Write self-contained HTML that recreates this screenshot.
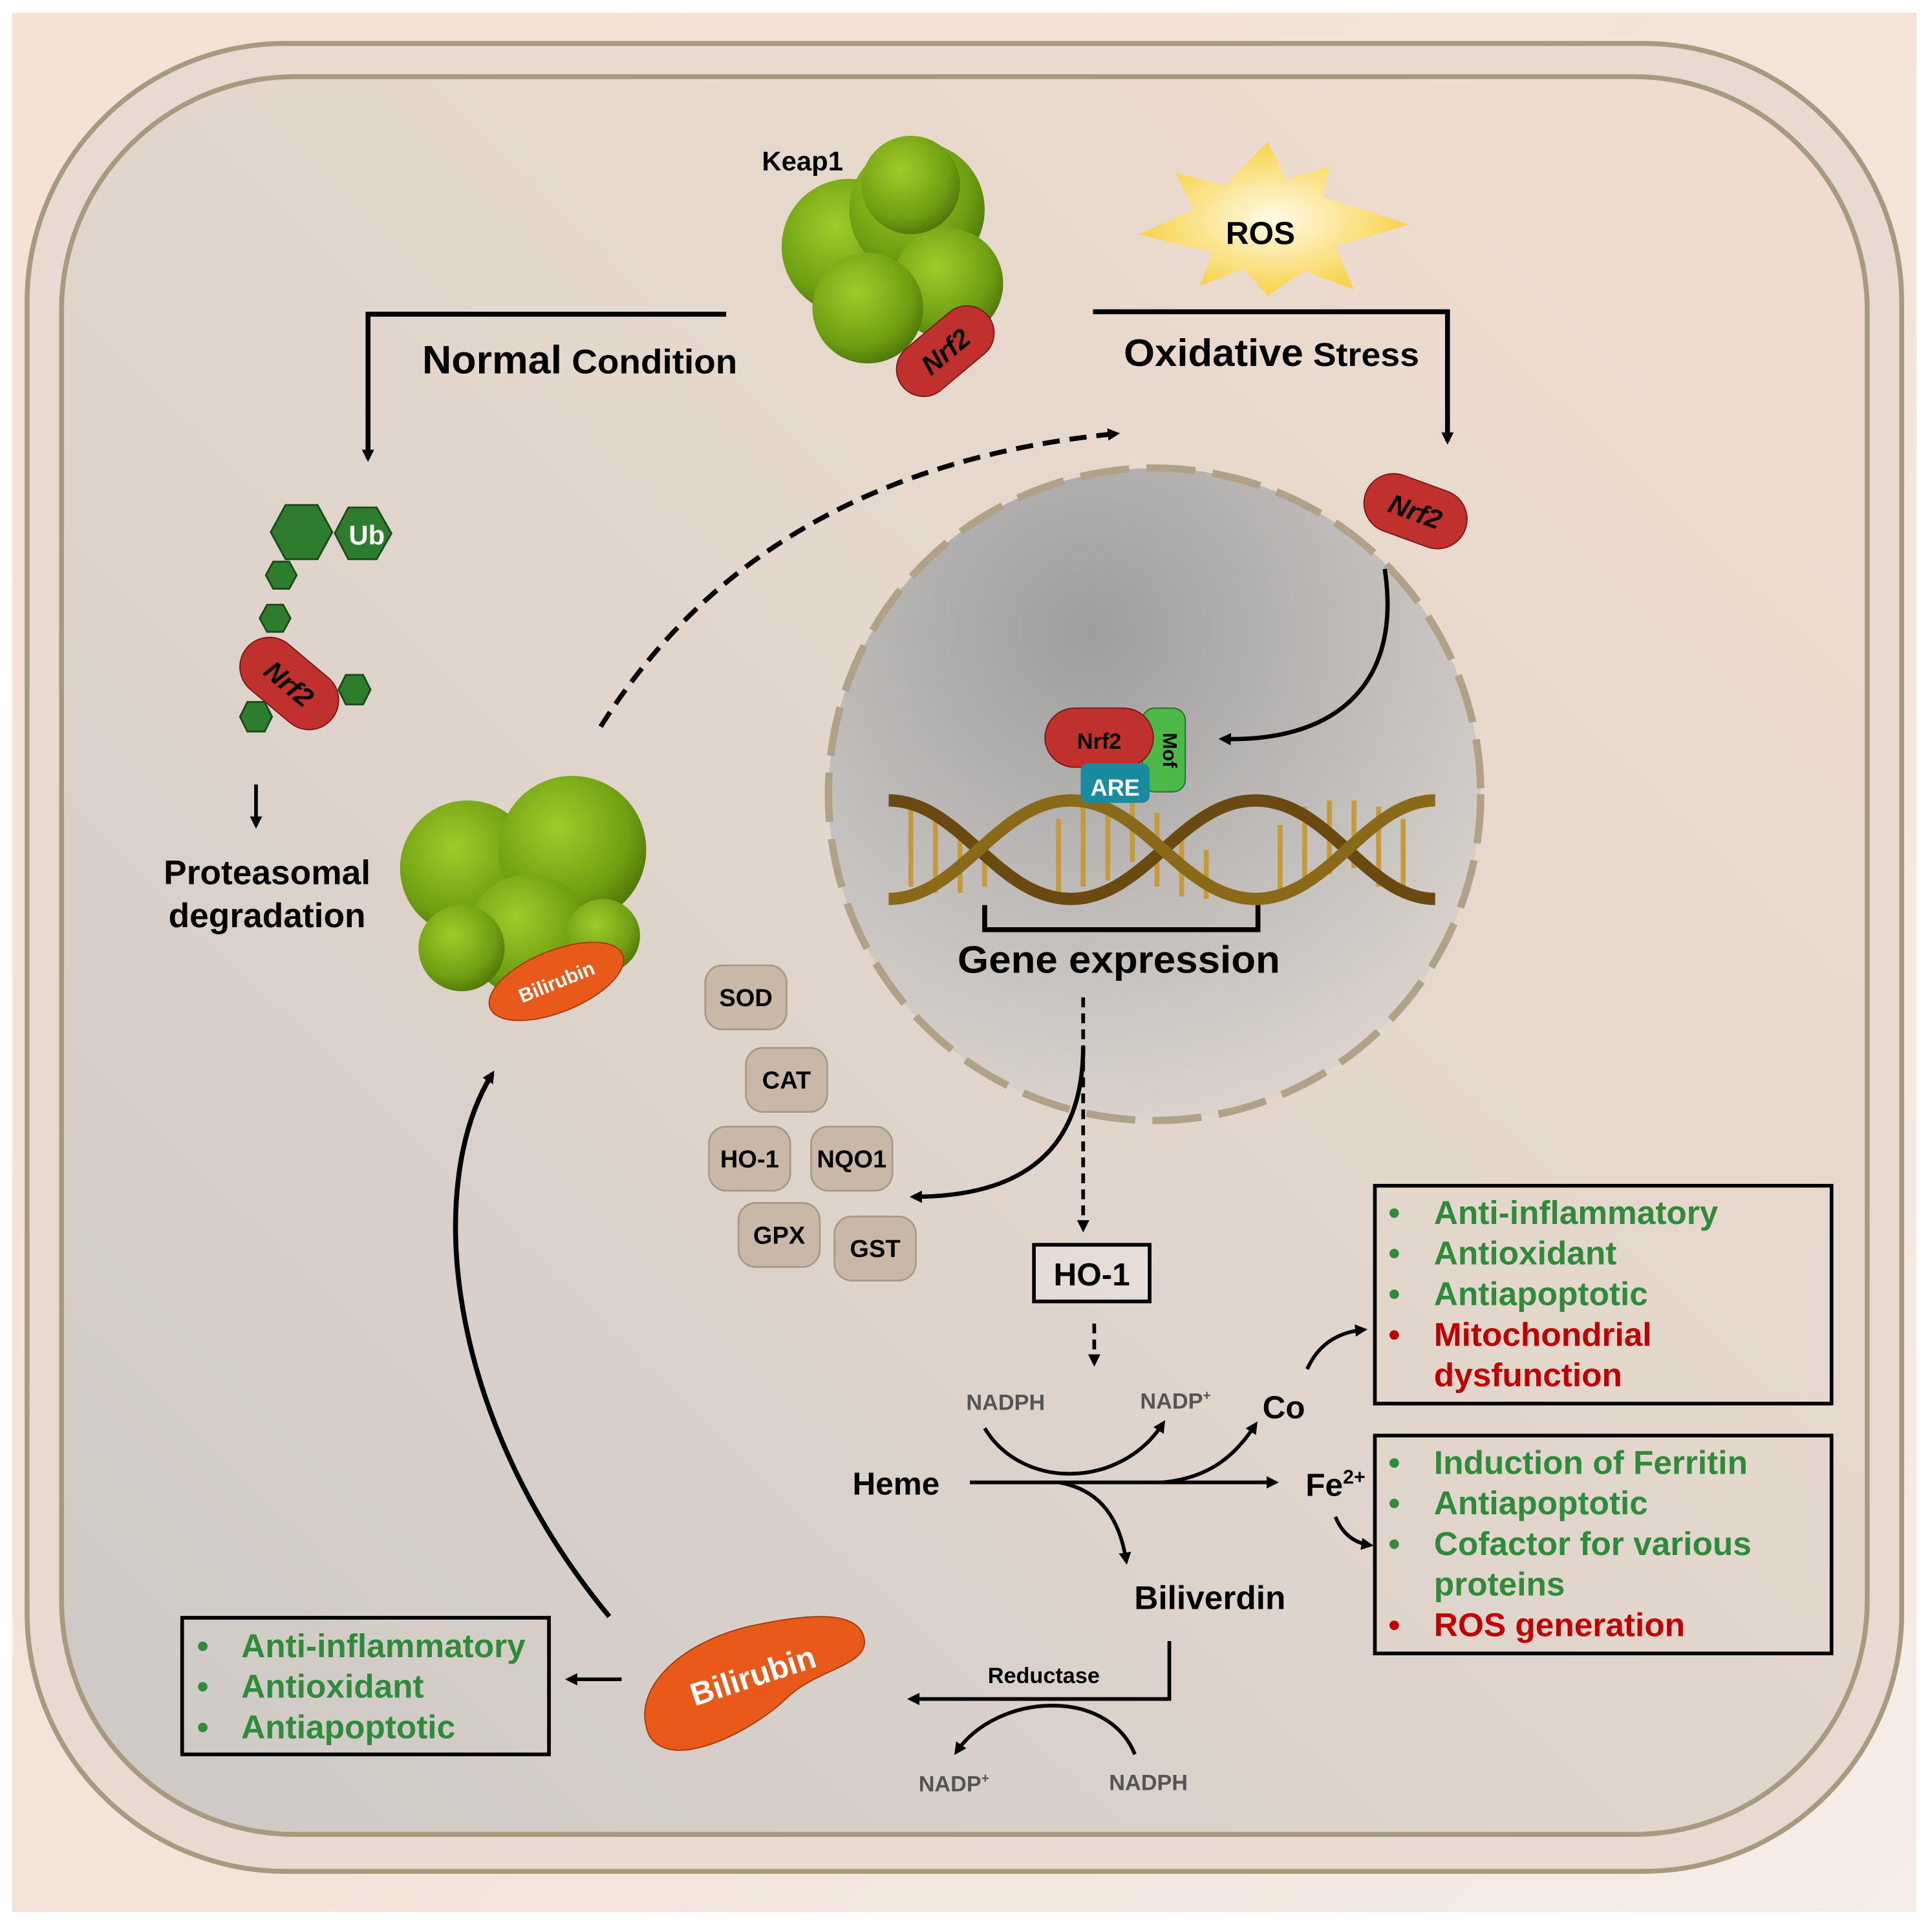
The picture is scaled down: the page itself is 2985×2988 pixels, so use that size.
<!DOCTYPE html>
<html><head><meta charset="utf-8"><style>
html,body{margin:0;padding:0;background:#fff}
svg{display:block}
text{font-family:"Liberation Sans",Arial,sans-serif;font-weight:bold}
</style></head><body>
<svg width="2985" height="2988" viewBox="0 0 1568 1569" xmlns="http://www.w3.org/2000/svg">
<defs>
<linearGradient id="bg" x1="0" y1="0" x2="1" y2="1">
<stop offset="0" stop-color="#f6e2d4"/><stop offset="0.5" stop-color="#f3e3d8"/><stop offset="1" stop-color="#f5ede8"/></linearGradient>
<linearGradient id="cell" x1="1" y1="0" x2="0" y2="1">
<stop offset="0" stop-color="#f1ddce"/><stop offset="0.5" stop-color="#e2d6cc"/><stop offset="1" stop-color="#cdc9c6"/></linearGradient>
<radialGradient id="nuc" cx="0.4" cy="0.25" r="0.85">
<stop offset="0" stop-color="#9e9e9e"/><stop offset="0.6" stop-color="#c6c2bf"/><stop offset="1" stop-color="#e2d9d2"/></radialGradient>
<radialGradient id="grn" cx="0.4" cy="0.35" r="0.7">
<stop offset="0" stop-color="#9fcc2a"/><stop offset="0.7" stop-color="#6e9e12"/><stop offset="1" stop-color="#4d7208"/></radialGradient>
<radialGradient id="ros" cx="0.5" cy="0.5" r="0.5">
<stop offset="0" stop-color="#fffbe8"/><stop offset="1" stop-color="#f8d24a"/></radialGradient>
<marker id="ar" markerWidth="10" markerHeight="10" refX="7" refY="5" orient="auto" markerUnits="userSpaceOnUse">
<path d="M0,0 L10,5 L0,10 Z" fill="#000"/></marker>
</defs>
<rect width="1568" height="1569" fill="#fff"/>
<rect x="10" y="10" width="1547" height="1543" fill="url(#bg)"/>
<rect x="22" y="35" width="1523" height="1485" rx="210" fill="#e8dad0" stroke="#a89a80" stroke-width="4"/>
<rect x="50" y="62" width="1467" height="1428" rx="190" fill="url(#cell)" stroke="#a89a80" stroke-width="4"/>
<circle cx="938" cy="645" r="265" fill="url(#nuc)" stroke="#b0a288" stroke-width="6" stroke-dasharray="40,14"/>

<g fill="url(#grn)">
<circle cx="690" cy="200" r="55"/><circle cx="745" cy="170" r="55"/><circle cx="770" cy="230" r="45"/><circle cx="705" cy="250" r="45"/><circle cx="740" cy="150" r="40"/>
</g>
<g transform="translate(768,285) rotate(-40)"><rect x="-45" y="-22" width="90" height="44" rx="22" fill="#c0302c" stroke="#7a1a18"/><text x="0" y="8" font-size="22" text-anchor="middle" font-style="italic">Nrf2</text></g>
<text x="652" y="138" font-size="22" text-anchor="middle">Keap1</text>

<polygon points="1030,115 1045,145 1080,135 1075,160 1145,182 1085,200 1100,235 1060,220 1030,240 1010,218 975,232 985,205 925,190 970,170 955,140 995,150" fill="url(#ros)"/>
<text x="1024" y="198" font-size="26" text-anchor="middle">ROS</text>

<path d="M590,255 H299 V372" fill="none" stroke="#000" stroke-width="4" marker-end="url(#ar)"/>
<path d="M888,253 H1176 V358" fill="none" stroke="#000" stroke-width="4" marker-end="url(#ar)"/>
<text x="343" y="303" font-size="32" textLength="256" lengthAdjust="spacingAndGlyphs"><tspan>Normal</tspan><tspan font-size="28"> Condition</tspan></text>
<text x="913" y="297" font-size="31" textLength="240" lengthAdjust="spacingAndGlyphs"><tspan>Oxidative</tspan><tspan font-size="27"> Stress</tspan></text>

<g fill="#2e7d2e" stroke="#1a4a1a" stroke-width="1.5">
<polygon points="220,432 232,410 258,410 270,432 258,454 232,454"/>
<polygon points="272,433 283,412 306,412 318,433 306,454 283,454"/>
<polygon points="216,467 222,456 235,456 241,467 235,478 222,478"/>
<polygon points="211,502 217,491 230,491 236,502 230,513 217,513"/>
<polygon points="275,560 281,548 295,548 301,560 295,572 281,572"/>
<polygon points="195,582 201,570 215,570 221,582 215,594 201,594"/>
</g>
<text x="298" y="442" font-size="22" fill="#fff" text-anchor="middle">Ub</text>
<g transform="translate(235,555) rotate(40)"><rect x="-45" y="-24" width="90" height="48" rx="24" fill="#c0302c" stroke="#7a1a18"/><text x="0" y="8" font-size="22" text-anchor="middle" font-style="italic">Nrf2</text></g>
<path d="M208,637 V670" stroke="#000" stroke-width="3" marker-end="url(#ar)"/>
<text x="217" y="718" font-size="28" text-anchor="middle">Proteasomal</text>
<text x="217" y="753" font-size="28" text-anchor="middle">degradation</text>

<g fill="url(#grn)">
<circle cx="380" cy="705" r="55"/><circle cx="465" cy="690" r="60"/><circle cx="430" cy="760" r="50"/><circle cx="375" cy="770" r="35"/><circle cx="490" cy="760" r="30"/>
</g>
<g transform="translate(452,797) rotate(-22)"><ellipse rx="58" ry="25" fill="#e85a1a" stroke="#a83a0a"/><text x="0" y="6" font-size="16" fill="#fff" text-anchor="middle">Bilirubin</text></g>

<path d="M488,590 Q620,380 907,352" fill="none" stroke="#000" stroke-width="4" stroke-dasharray="14,8" marker-end="url(#ar)"/>

<g transform="translate(1150,415) rotate(20)"><rect x="-43" y="-24" width="86" height="48" rx="24" fill="#c0302c" stroke="#7a1a18"/><text x="0" y="8" font-size="22" text-anchor="middle" font-style="italic">Nrf2</text></g>
<path d="M1125,462 C1140,560 1080,603 993,600" fill="none" stroke="#000" stroke-width="3.5" marker-end="url(#ar)"/>

<g fill="none">
<g stroke="#c49a3a" stroke-width="4">
<path d="M740,655 V720 M760,665 V725 M780,680 V725 M800,700 V720 M860,665 V725 M880,655 V720 M900,650 V715 M920,650 V700 M940,660 V720 M960,675 V728 M980,690 V730 M1040,670 V725 M1060,655 V720 M1080,650 V710 M1100,650 V705 M1120,655 V720 M1140,665 V728"/>
</g>
<path d="M722,650 C780,650 810,730 870,730 C930,730 960,650 1020,650 C1080,650 1110,730 1166,730" stroke="#6a4a10" stroke-width="10"/>
<path d="M722,730 C780,730 810,650 870,650 C930,650 960,730 1020,730 C1080,730 1110,650 1166,650" stroke="#8a6a18" stroke-width="10"/>
</g>
<rect x="928" y="575" width="35" height="68" rx="10" fill="#4cb848" stroke="#2a6a2a"/>
<text x="945" y="595" font-size="16" transform="rotate(90 945 595)">Mof</text>
<rect x="849" y="575" width="88" height="48" rx="24" fill="#c0302c" stroke="#7a1a18"/>
<text x="893" y="608" font-size="18" text-anchor="middle">Nrf2</text>
<rect x="878" y="620" width="56" height="32" rx="6" fill="#1a8aa0"/>
<text x="906" y="646" font-size="19" fill="#fff" text-anchor="middle">ARE</text>
<path d="M800,735 V755 H1022 V735" fill="none" stroke="#000" stroke-width="4"/>
<text x="909" y="790" font-size="31" text-anchor="middle" textLength="262" lengthAdjust="spacingAndGlyphs">Gene expression</text>

<g fill="#c9b8a7" stroke="#a89a88" stroke-width="1.5">
<rect x="573" y="784" width="66" height="52" rx="14"/>
<rect x="606" y="851" width="66" height="52" rx="14"/>
<rect x="576" y="915" width="66" height="52" rx="14"/>
<rect x="659" y="915" width="66" height="52" rx="14"/>
<rect x="600" y="977" width="66" height="52" rx="14"/>
<rect x="678" y="988" width="66" height="52" rx="14"/>
</g>
<g font-size="20" text-anchor="middle">
<text x="606" y="817">SOD</text><text x="639" y="884">CAT</text><text x="609" y="948">HO-1</text><text x="692" y="948">NQO1</text><text x="633" y="1010">GPX</text><text x="711" y="1021">GST</text>
</g>

<path d="M880,850 C880,935 830,972 742,972" fill="none" stroke="#000" stroke-width="3.5" marker-end="url(#ar)"/>
<path d="M880,810 V998" fill="none" stroke="#000" stroke-width="3" stroke-dasharray="8,5" marker-end="url(#ar)"/>
<rect x="840" y="1011" width="94" height="46" fill="#fff" fill-opacity="0.2" stroke="#000" stroke-width="3"/>
<text x="887" y="1044" font-size="26" text-anchor="middle">HO-1</text>
<path d="M889,1075 V1107" fill="none" stroke="#000" stroke-width="3" stroke-dasharray="8,5" marker-end="url(#ar)"/>

<text x="817" y="1145" font-size="18" fill="#555" text-anchor="middle" font-weight="normal">NADPH</text>
<text x="955" y="1144" font-size="18" fill="#555" text-anchor="middle" font-weight="normal">NADP<tspan font-size="11" dy="-7">+</tspan></text>
<text x="728" y="1214" font-size="26" text-anchor="middle">Heme</text>
<path d="M788,1204 H1036" stroke="#000" stroke-width="3" marker-end="url(#ar)"/>
<path d="M800,1160 C830,1210 910,1210 945,1156" fill="none" stroke="#000" stroke-width="3" marker-end="url(#ar)"/>
<path d="M945,1204 C985,1200 1005,1180 1020,1157" fill="none" stroke="#000" stroke-width="3" marker-end="url(#ar)"/>
<path d="M860,1204 C895,1210 910,1235 915,1268" fill="none" stroke="#000" stroke-width="3" marker-end="url(#ar)"/>
<text x="1043" y="1152" font-size="26" text-anchor="middle">Co</text>
<text x="1085" y="1215" font-size="26" text-anchor="middle">Fe<tspan font-size="16" dy="-10">2+</tspan></text>
<text x="983" y="1307" font-size="27" text-anchor="middle">Biliverdin</text>
<path d="M1062,1112 Q1075,1083 1108,1080" fill="none" stroke="#000" stroke-width="3" marker-end="url(#ar)"/>
<path d="M1085,1232 Q1093,1252 1113,1255" fill="none" stroke="#000" stroke-width="3" marker-end="url(#ar)"/>

<rect x="1117" y="963" width="371" height="177" fill="none" stroke="#000" stroke-width="3"/>
<g font-size="27" fill="#2e8b3a">
<text x="1128" y="994">•</text><text x="1165" y="994">Anti-inflammatory</text>
<text x="1128" y="1027">•</text><text x="1165" y="1027">Antioxidant</text>
<text x="1128" y="1060">•</text><text x="1165" y="1060">Antiapoptotic</text>
</g>
<g font-size="27" fill="#c00000">
<text x="1128" y="1093">•</text><text x="1165" y="1093">Mitochondrial</text><text x="1165" y="1126">dysfunction</text>
</g>
<rect x="1117" y="1166" width="371" height="177" fill="none" stroke="#000" stroke-width="3"/>
<g font-size="27" fill="#2e8b3a">
<text x="1128" y="1197">•</text><text x="1165" y="1197">Induction of Ferritin</text>
<text x="1128" y="1230">•</text><text x="1165" y="1230">Antiapoptotic</text>
<text x="1128" y="1263">•</text><text x="1165" y="1263">Cofactor for various</text><text x="1165" y="1296">proteins</text>
</g>
<g font-size="27" fill="#c00000"><text x="1128" y="1329">•</text><text x="1165" y="1329">ROS generation</text></g>
<rect x="148" y="1314" width="298" height="111" fill="none" stroke="#000" stroke-width="3"/>
<g font-size="27" fill="#2e8b3a">
<text x="160" y="1346">•</text><text x="196" y="1346">Anti-inflammatory</text>
<text x="160" y="1379">•</text><text x="196" y="1379">Antioxidant</text>
<text x="160" y="1412">•</text><text x="196" y="1412">Antiapoptotic</text>
</g>

<path d="M950,1333 V1380 H740" fill="none" stroke="#000" stroke-width="3" marker-end="url(#ar)"/>
<text x="848" y="1367" font-size="18" text-anchor="middle">Reductase</text>
<path d="M922,1425 C900,1370 810,1375 777,1423" fill="none" stroke="#000" stroke-width="3" marker-end="url(#ar)"/>
<text x="775" y="1455" font-size="18" fill="#555" text-anchor="middle" font-weight="normal">NADP<tspan font-size="11" dy="-7">+</tspan></text>
<text x="933" y="1454" font-size="18" fill="#555" text-anchor="middle" font-weight="normal">NADPH</text>

<g transform="translate(612,1362) rotate(-18)"><path d="M-95,20 C-100,-20 -50,-45 10,-40 C60,-35 100,-25 95,0 C90,20 50,10 20,25 C-10,40 -85,55 -95,20 Z" fill="#e85a1a" stroke="#a83a0a"/><text x="0" y="8" font-size="26" fill="#fff" text-anchor="middle">Bilirubin</text></g>
<path d="M505,1364 H462" stroke="#000" stroke-width="3" marker-end="url(#ar)"/>
<path d="M495,1313 C360,1150 345,960 400,872" fill="none" stroke="#000" stroke-width="4" marker-end="url(#ar)"/>
</svg>
</body></html>
